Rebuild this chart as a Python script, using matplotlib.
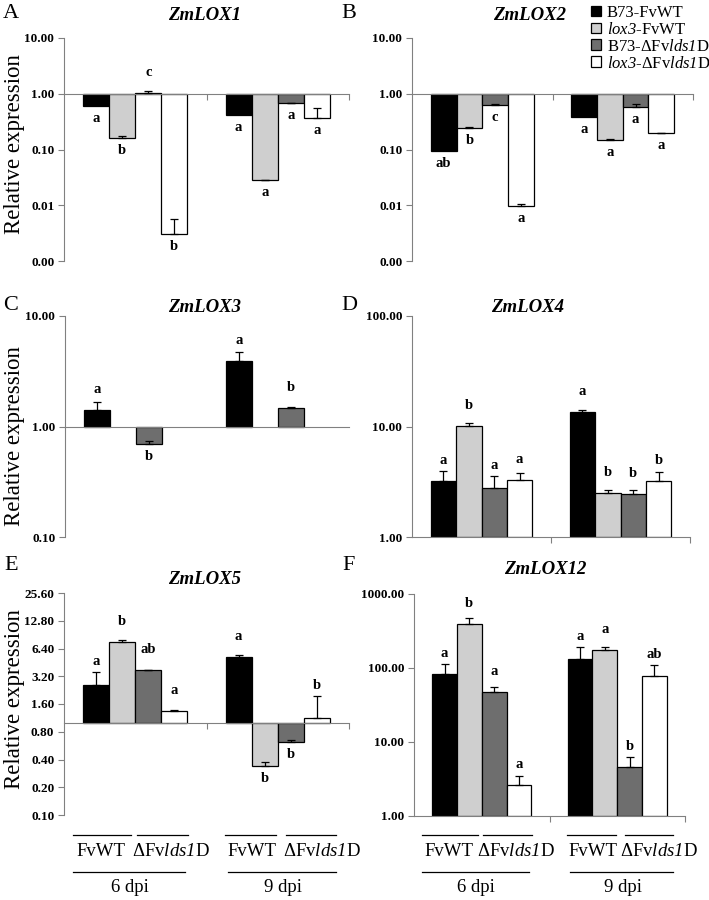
import matplotlib
matplotlib.use('Agg')
import matplotlib.pyplot as plt
import matplotlib.transforms as mtransforms
import numpy as np

plt.rcParams['font.family'] = ['Liberation Serif', 'DejaVu Serif']
plt.rcParams['mathtext.fontset'] = 'custom'
plt.rcParams['mathtext.rm'] = 'Liberation Serif'
plt.rcParams['mathtext.it'] = 'Liberation Serif:italic'
# sf slot used for italic words that contain digits (lox3, lds1)
plt.rcParams['mathtext.sf'] = 'Liberation Serif:italic'

W, H = 709, 900
nan = np.nan

series = ['B73-FvWT', '$\\mathsf{lox3}$-FvWT', 'B73-ΔFv$\\mathsf{lds1}$D',
          '$\\mathsf{lox3}$-ΔFv$\\mathsf{lds1}$D']
colors = ['#000000', '#cfcfcf', '#6e6e6e', '#ffffff']
groups = ['6 dpi', '9 dpi']
strains = ['FvWT', 'ΔFv$\\mathsf{lds1}$D']

# rows = series, cols = (6 dpi, 9 dpi)
lox1_val = [[0.61, 0.41], [0.16, 0.028], [1.05, 0.67], [0.0031, 0.37]]
lox1_err = [[0, 0], [0.015, 0.0008], [0.05, 0.01], [0.0025, 0.18]]
lox1_sig = [['a', 'a'], ['b', 'a'], ['c', 'a'], ['b', 'a']]

lox2_val = [[0.095, 0.38], [0.24, 0.15], [0.635, 0.59], [0.0095, 0.197]]
lox2_err = [[0, 0], [0.012, 0.004], [0.01, 0.06], [0.001, 0.003]]
lox2_sig = [['ab', 'a'], ['b', 'a'], ['c', 'a'], ['a', 'a']]

lox3_val = [[1.41, 3.94], [nan, nan], [0.69, 1.48], [nan, nan]]
lox3_err = [[0.26, 0.8], [0, 0], [0.05, 0.03], [0, 0]]
lox3_sig = [['a', 'a'], ['', ''], ['b', 'b'], ['', '']]

lox4_val = [[3.18, 13.5], [10.2, 2.5], [2.79, 2.46], [3.3, 3.23]]
lox4_err = [[0.74, 0.6], [0.5, 0.18], [0.74, 0.22], [0.49, 0.64]]
lox4_sig = [['a', 'a'], ['b', 'b'], ['a', 'b'], ['a', 'b']]

lox5_val = [[2.55, 5.2], [7.5, 0.336], [3.72, 0.618], [1.34, 1.14]]
lox5_err = [[1.02, 0.3], [0.4, 0.04], [0.03, 0.025], [0.03, 0.8]]
lox5_sig = [['a', 'a'], ['b', 'b'], ['ab', 'b'], ['a', 'b']]

lox12_val = [[83, 134], [396, 177], [46.7, 4.62], [2.66, 77]]
lox12_err = [[32, 56], [81, 13], [8, 1.57], [0.8, 34]]
lox12_sig = [['a', 'a'], ['b', 'a'], ['a', 'b'], ['a', 'ab']]

ticks_ab = [0.001, 0.01, 0.1, 1, 10]
ticks_c = [0.1, 1, 10]
ticks_d = [1, 10, 100]
ticks_e = [0.10, 0.20, 0.40, 0.80, 1.60, 3.20, 6.40, 12.80, 25.60]
ticks_f = [1, 10, 100, 1000]

panels = [
    # letter, gene, val, err, sig, ticks, log base, rect px (l, r, top, bottom), title px
    ('A', 'ZmLOX1', lox1_val, lox1_err, lox1_sig, ticks_ab, 10, (64, 349, 38, 261), (205, 15)),
    ('B', 'ZmLOX2', lox2_val, lox2_err, lox2_sig, ticks_ab, 10, (412, 693, 38, 261), (530, 15)),
    ('C', 'ZmLOX3', lox3_val, lox3_err, lox3_sig, ticks_c, 10, (65, 349, 316, 537), (205, 308)),
    ('D', 'ZmLOX4', lox4_val, lox4_err, lox4_sig, ticks_d, 10, (412, 690, 316, 537), (528, 308)),
    ('E', 'ZmLOX5', lox5_val, lox5_err, lox5_sig, ticks_e, 2, (64, 349, 593, 815), (205, 580)),
    ('F', 'ZmLOX12', lox12_val, lox12_err, lox12_sig, ticks_f, 10, (414, 685, 594, 816), (545, 570)),
]

fig = plt.figure(figsize=(W / 100, H / 100), dpi=100)
w = 0.183
axes = {}

for letter, gene, val, err, sig, ticks, base, (l, r, t, b), (tx, ty) in panels:
    ax = fig.add_axes([l / W, 1 - b / H, (r - l) / W, (b - t) / H])
    axes[letter] = ax
    ax.set_yscale('log', base=base)
    ax.set_ylim(ticks[0], ticks[-1])
    ax.set_xlim(-0.5, 1.5)
    px_per_log = (b - t) / np.log(ticks[-1] / ticks[0])
    bars = []
    for i in range(4):
        x = np.arange(2) + (i - 1.5) * w
        v = np.array(val[i], dtype=float)
        e = np.array(err[i], dtype=float)
        bc = ax.bar(x, v - 1, bottom=1, width=w, color=colors[i],
                    edgecolor='black', linewidth=0.9, label=series[i], zorder=2)
        bars.append(bc)
        for j in range(2):
            if np.isnan(v[j]):
                continue
            if e[j] > 0:
                ax.errorbar(x[j], v[j], yerr=[[0], [e[j]]], fmt='none',
                            ecolor='black', elinewidth=0.9, capsize=3,
                            capthick=0.9, zorder=3)
            if v[j] >= 1:
                dy = max(14, np.log((v[j] + e[j]) / v[j]) * px_per_log + 4)
                ax.annotate(sig[i][j], (x[j], v[j]), xytext=(0, dy),
                            textcoords='offset pixels', ha='center', va='bottom',
                            fontsize=10.5, fontweight='bold')
            else:
                ax.annotate(sig[i][j], (x[j], v[j]), xytext=(0, -6),
                            textcoords='offset pixels', ha='center', va='top',
                            fontsize=10.5, fontweight='bold')
    if letter == 'B':
        legend_bars = bars

    for s in ['top', 'right']:
        ax.spines[s].set_visible(False)
    ax.spines['left'].set_color('#808080')
    ax.spines['bottom'].set_color('#808080')
    ax.spines['bottom'].set_position(('data', 1))
    ax.set_yticks(ticks)
    ax.set_yticklabels(['%.2f' % v for v in ticks], fontweight='bold', fontsize=9.5)
    ax.yaxis.set_minor_locator(matplotlib.ticker.NullLocator())
    ax.tick_params(axis='y', length=4, color='#808080', pad=3)
    if letter == 'C':
        ax.set_xticks([])
    else:
        ax.set_xticks([0.5, 1.5])
        ax.tick_params(axis='x', length=4, color='#808080', labelbottom=False)
    ax.patch.set_alpha(0)

    fig.text(tx / W, 1 - ty / H, gene, ha='center', va='center',
             fontsize=13.5, fontweight='bold', style='italic')
    lx = 11 if letter in 'ACE' else 349
    ly = {'A': 14, 'B': 14, 'C': 305, 'D': 305, 'E': 566, 'F': 566}[letter]
    fig.text(lx / W, 1 - ly / H, letter, ha='center', va='center', fontsize=16)

for yc in [144, 436, 699]:
    fig.text(15 / W, 1 - yc / H, 'Relative expression', rotation=90,
             ha='center', va='center', fontsize=16.5)

axes['B'].legend(handles=legend_bars, labels=series, loc='upper left',
                 bbox_to_anchor=(591 / W, 1 - 5 / H), bbox_transform=fig.transFigure,
                 frameon=False, fontsize=12, handlelength=0.6, handleheight=0.6,
                 handletextpad=0.35, labelspacing=0.05, borderpad=0, borderaxespad=0)

# treatment / time labels under E and F
upper_lines = [(-0.44, -0.03), (0.01, 0.37), (0.63, 0.99), (1.06, 1.41)]
lower_lines = [(-0.44, 0.35), (0.65, 1.41)]
strain_x = [-0.24, 0.25, 0.82, 1.31]
group_x = [-0.04, 1.04]
for key in ['E', 'F']:
    ax = axes[key]
    tr = mtransforms.blended_transform_factory(ax.transData, fig.transFigure)
    for x0, x1 in upper_lines:
        ax.plot([x0, x1], [1 - 835 / H] * 2, transform=tr, color='black',
                lw=0.9, clip_on=False)
    for x0, x1 in lower_lines:
        ax.plot([x0, x1], [1 - 872 / H] * 2, transform=tr, color='black',
                lw=0.9, clip_on=False)
    for k, xs in enumerate(strain_x):
        ax.text(xs, 1 - 851 / H, strains[k % 2], transform=tr, ha='center',
                va='center', fontsize=13.5)
    for k, xs in enumerate(group_x):
        ax.text(xs, 1 - 888 / H, groups[k], transform=tr, ha='center',
                va='center', fontsize=13.5)

fig.savefig('out.png', dpi=100)
